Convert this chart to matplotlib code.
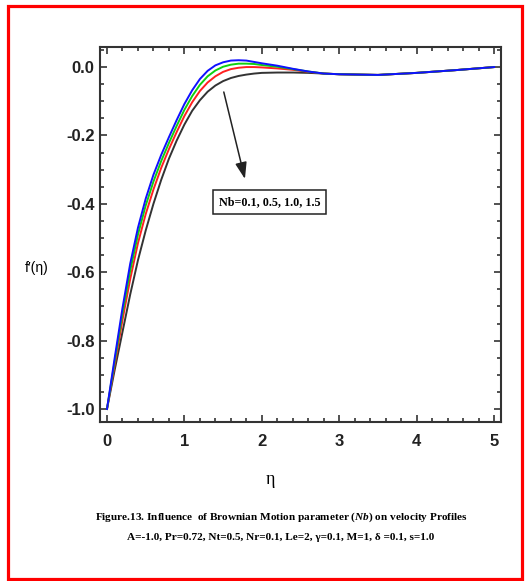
import matplotlib
matplotlib.use("Agg")
import matplotlib.pyplot as plt
import matplotlib.ticker as ticker
from matplotlib.patches import Rectangle

plt.rcParams['mathtext.fontset'] = 'custom'
plt.rcParams['mathtext.it'] = 'Liberation Serif:italic:bold'
plt.rcParams['mathtext.rm'] = 'Liberation Serif:bold'

# eta grid and velocity profiles f'(eta)
eta = [0.0, 0.1, 0.2, 0.3, 0.4, 0.5, 0.6, 0.7, 0.8, 0.9, 1.0,
       1.1, 1.2, 1.3, 1.4, 1.5, 1.6, 1.7, 1.8, 1.9, 2.0,
       2.2, 2.4, 2.6, 2.8, 3.0, 3.5, 4.0, 4.5, 5.0]

f_nb01 = [-1.0, -0.85, -0.705, -0.575, -0.47, -0.385, -0.315, -0.257, -0.205, -0.155, -0.108,
          -0.068, -0.035, -0.011, 0.005, 0.014, 0.019, 0.02, 0.019, 0.015, 0.011,
          0.004, -0.005, -0.013, -0.019, -0.021, -0.023, -0.017, -0.009, 0.0]
f_nb05 = [-1.0, -0.86, -0.72, -0.595, -0.49, -0.405, -0.335, -0.275, -0.222, -0.172, -0.125,
          -0.085, -0.052, -0.027, -0.01, 0.001, 0.007, 0.01, 0.01, 0.009, 0.006,
          0.001, -0.006, -0.013, -0.019, -0.021, -0.023, -0.017, -0.009, 0.0]
f_nb10 = [-1.0, -0.87, -0.74, -0.62, -0.515, -0.43, -0.358, -0.295, -0.24, -0.19, -0.143,
          -0.103, -0.07, -0.045, -0.027, -0.014, -0.006, -0.002, 0.0, 0.0, -0.001,
          -0.004, -0.008, -0.014, -0.019, -0.021, -0.023, -0.017, -0.009, 0.0]
f_nb15 = [-1.0, -0.885, -0.775, -0.665, -0.565, -0.478, -0.40, -0.33, -0.268, -0.215, -0.168,
          -0.128, -0.097, -0.072, -0.054, -0.041, -0.032, -0.026, -0.022, -0.019, -0.017,
          -0.016, -0.016, -0.017, -0.019, -0.021, -0.023, -0.017, -0.009, 0.0]

xticks = [0, 1, 2, 3, 4, 5]
yticks = [0.0, -0.2, -0.4, -0.6, -0.8, -1.0]

sans = ['Liberation Sans', 'DejaVu Sans']
serif = ['Liberation Serif', 'DejaVu Serif']

fig = plt.figure(figsize=(5.25, 5.81), dpi=100)
ax = fig.add_axes([0.1905, 0.2737, 0.764, 0.645])

ax.plot(eta, f_nb15, color='#333333', lw=1.4)
ax.plot(eta, f_nb10, color='#ff2020', lw=1.4)
ax.plot(eta, f_nb05, color='#10d010', lw=1.4)
ax.plot(eta, f_nb01, color='#1010ff', lw=1.4)

ax.set_xlim(-0.09, 5.09)
ax.set_ylim(-1.038, 0.058)
ax.set_xticks(xticks)
ax.set_yticks(yticks)
ax.set_xticklabels([str(t) for t in xticks])
ax.set_yticklabels([f"{t:.1f}" for t in yticks])
ax.xaxis.set_minor_locator(ticker.MultipleLocator(0.2))
ax.yaxis.set_minor_locator(ticker.MultipleLocator(0.05))
ax.tick_params(which='both', direction='in', top=True, right=True,
               color='#333333', width=1.2)
ax.tick_params(which='major', length=5)
ax.tick_params(which='minor', length=3)
ax.tick_params(axis='x', pad=9)
ax.tick_params(axis='y', pad=4)
for lab in ax.get_xticklabels() + ax.get_yticklabels():
    lab.set_family(sans)
    lab.set_fontweight('bold')
    lab.set_fontsize(12)
    lab.set_color('#222222')
for sp in ax.spines.values():
    sp.set_linewidth(1.5)
    sp.set_color('#333333')

# arrow and parameter box
ax.annotate('', xy=(1.79, -0.335), xytext=(1.50, -0.065),
            arrowprops=dict(arrowstyle='-|>,head_length=1.0,head_width=0.35',
                            color='#222222', lw=1.1))
ax.text(2.1, -0.395, 'Nb=0.1, 0.5, 1.0, 1.5', family=serif, fontweight='bold',
        fontsize=8.7, ha='center', va='center',
        bbox=dict(boxstyle='square,pad=0.5', fc='white', ec='#222222', lw=1.1))

fig.text(25 / 525, 1 - 268 / 581, "f\u2032(\u03b7)", family=sans,
         fontsize=10, ha='left', va='center')
fig.text(270 / 525, 1 - 480 / 581, "\u03b7", family=serif, fontsize=13,
         ha='center', va='center')

fig.text(281 / 525, 1 - 517 / 581,
         "Figure.13. Influence  of Brownian Motion parameter ($\\it{Nb}$) on velocity Profiles",
         family=serif, fontweight='bold', fontsize=8.1, ha='center', va='center')
fig.text(281 / 525, 1 - 537 / 581,
         "A=-1.0, Pr=0.72, Nt=0.5, Nr=0.1, Le=2, \u03b3=0.1, M=1, \u03b4 =0.1, s=1.0",
         family=serif, fontweight='bold', fontsize=8.1, ha='center', va='center')

fig.patches.append(Rectangle((7.5 / 525, 1 - 578.5 / 581), (522 - 7.5) / 525,
                             (578.5 - 6) / 581, transform=fig.transFigure,
                             fill=False, ec='#ff0000', lw=2.3))

fig.savefig('out.png', dpi=100)
